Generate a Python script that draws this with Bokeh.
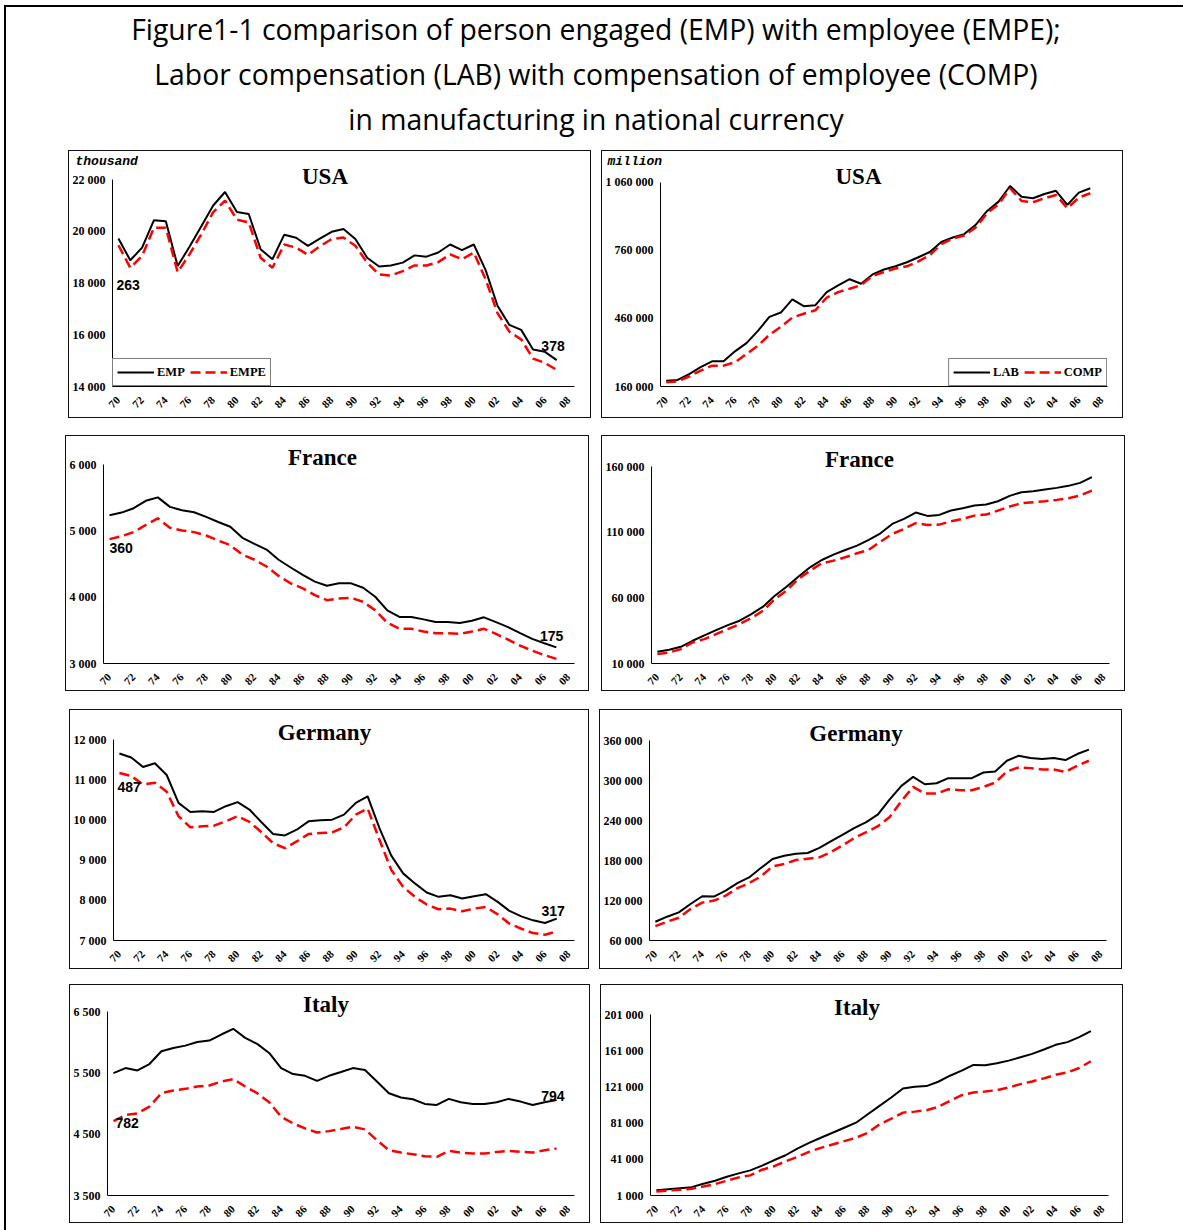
import math

from bokeh.embed import file_html
from bokeh.layouts import column, row
from bokeh.models import Div, FixedTicker, Label, Legend, LegendItem, Range1d, Title
from bokeh.plotting import figure
from bokeh.resources import INLINE

# ---------------------------------------------------------------- data
years = list(range(1970, 2008))
axis_years = list(range(1970, 2009, 2))
axis_year_labels = [f"{y % 100:02d}" for y in axis_years]

# persons engaged / employees, thousand
usa_emp = [19724, 18880, 19370, 20430, 20390, 18660, 19400, 20200, 21000, 21520,
           20750, 20670, 19310, 18920, 19870, 19750, 19440, 19720, 19980, 20090,
           19700, 18980, 18640, 18680, 18790, 19070, 19020, 19180, 19490, 19270,
           19490, 18500, 17120, 16380, 16190, 15430, 15340, 15020]
usa_empe = [19461, 18590, 19050, 20140, 20140, 18420, 19110, 19890, 20740, 21190,
            20450, 20350, 18980, 18590, 19490, 19370, 19090, 19420, 19700, 19760,
            19440, 18790, 18330, 18290, 18460, 18680, 18680, 18810, 19110, 18920,
            19180, 18140, 16840, 16120, 15820, 15080, 14910, 14642]

france_emp = [5237, 5278, 5344, 5456, 5507, 5364, 5314, 5283, 5212, 5136,
              5064, 4897, 4805, 4719, 4566, 4449, 4337, 4236, 4174, 4210,
              4210, 4144, 4007, 3803, 3702, 3702, 3666, 3625, 3625, 3610,
              3646, 3697, 3625, 3549, 3458, 3371, 3305, 3244]
france_empe = [4877, 4922, 4983, 5090, 5191, 5049, 5008, 4983, 4932, 4856,
               4785, 4642, 4566, 4464, 4322, 4210, 4134, 4032, 3956, 3981,
               3991, 3930, 3803, 3615, 3524, 3524, 3483, 3458, 3458, 3447,
               3483, 3524, 3447, 3361, 3269, 3193, 3127, 3069]

germany_emp = [11657, 11557, 11323, 11415, 11122, 10428, 10202, 10219, 10202, 10345,
               10445, 10261, 9952, 9651, 9617, 9759, 9968, 9993, 10010, 10135,
               10428, 10587, 9801, 9115, 8672, 8422, 8196, 8087, 8129, 8045,
               8104, 8154, 7962, 7736, 7602, 7502, 7435, 7544]
germany_empe = [11170, 11097, 10888, 10930, 10704, 10094, 9818, 9843, 9860, 9968,
                10094, 9952, 9701, 9425, 9299, 9467, 9651, 9676, 9692, 9818,
                10135, 10286, 9508, 8756, 8338, 8087, 7895, 7778, 7794, 7728,
                7794, 7836, 7652, 7418, 7293, 7184, 7142, 7227]

italy_emp = [5498, 5580, 5542, 5646, 5854, 5909, 5947, 6007, 6029, 6128,
             6221, 6073, 5975, 5827, 5580, 5482, 5454, 5372, 5454, 5515,
             5580, 5548, 5361, 5170, 5099, 5071, 4995, 4978, 5077, 5022,
             4995, 4995, 5022, 5077, 5033, 4978, 5022, 5060]
italy_empe = [4716, 4814, 4841, 4951, 5170, 5214, 5241, 5279, 5296, 5361,
              5400, 5279, 5170, 5022, 4787, 4677, 4595, 4529, 4551, 4584,
              4622, 4579, 4403, 4239, 4201, 4174, 4141, 4130, 4228, 4201,
              4184, 4184, 4212, 4228, 4212, 4201, 4239, 4266]

# labour compensation / compensation of employees, million
usa_lab = [185000, 189000, 215000, 245000, 271000, 271000, 315000, 351000, 405000, 467000,
           486000, 544000, 514000, 518000, 576000, 606000, 633000, 613000, 654000, 676000,
           690000, 708000, 730000, 753000, 797000, 817000, 832000, 873000, 934000, 975000,
           1044000, 997000, 990000, 1009000, 1023000, 961000, 1015000, 1034000]
usa_comp = [179000, 183000, 204000, 230000, 252000, 252000, 267000, 303000, 340000, 388000,
            423000, 464000, 481000, 496000, 552000, 576000, 591000, 607000, 647000, 665000,
            680000, 690000, 712000, 739000, 788000, 812000, 826000, 861000, 924000, 964000,
            1034000, 978000, 972000, 990000, 1004000, 946000, 993000, 1012000]

france_lab = [18920, 20440, 22730, 27310, 31380, 35440, 39260, 42560, 47640, 53240,
              61620, 68490, 76110, 83230, 88820, 92890, 96450, 99750, 104080, 109160,
              116280, 120090, 124920, 122380, 123140, 126450, 128220, 130260, 131020, 133560,
              137630, 140430, 141190, 142460, 143730, 145260, 147540, 151870]
france_comp = [17140, 18410, 20950, 26040, 28580, 32390, 36200, 40010, 44610, 50190,
               59090, 65440, 74340, 80690, 86280, 88320, 90860, 93910, 96450, 102810,
               108650, 112470, 116790, 115520, 115770, 118310, 120090, 122630, 123390, 126450,
               129500, 132040, 132800, 133560, 134580, 135850, 137880, 141700]

germany_lab = [88160, 95720, 102260, 114840, 126420, 125920, 134980, 146060, 154610, 168710,
               182300, 187330, 190350, 191360, 198910, 208980, 219050, 229120, 237680, 249250,
               271910, 292040, 305630, 294560, 296070, 303620, 303620, 303620, 312180, 313690,
               329800, 337350, 333820, 332310, 333820, 330800, 339860, 346410]
germany_comp = [81620, 88160, 94200, 107290, 116860, 119880, 127430, 138500, 146060, 156130,
                171230, 174750, 180790, 182800, 184820, 192870, 202940, 214010, 222570, 231630,
                245230, 269390, 290530, 280460, 280460, 287000, 285500, 285500, 290530, 297080,
                313690, 319730, 318720, 316710, 316710, 313180, 322240, 329800]

italy_lab = [6910, 8030, 9140, 10250, 13960, 17300, 21760, 25470, 28810, 34000,
             39940, 45510, 52930, 59240, 64810, 70380, 75940, 81510, 90790, 100060,
             109340, 119360, 121220, 121960, 126780, 133460, 139030, 145340, 144970, 147190,
             150160, 153870, 157580, 162410, 167600, 170570, 176140, 182820]
italy_comp = [5430, 6550, 7290, 8400, 11000, 13600, 17300, 21020, 23240, 29550,
              33260, 38830, 43650, 49220, 53670, 57390, 61100, 64810, 70380, 79660,
              85960, 92640, 93750, 95240, 98950, 105630, 111940, 114910, 116020, 117500,
              120470, 124180, 127150, 130490, 134570, 137170, 141990, 149420]

# y-axis ticks of each panel
usa_emp_ticks = [14000, 16000, 18000, 20000, 22000]
usa_lab_ticks = [160000, 460000, 760000, 1060000]
france_emp_ticks = [3000, 4000, 5000, 6000]
france_lab_ticks = [10000, 60000, 110000, 160000]
germany_emp_ticks = [7000, 8000, 9000, 10000, 11000, 12000]
germany_lab_ticks = [60000, 120000, 180000, 240000, 300000, 360000]
italy_emp_ticks = [3500, 4500, 5500, 6500]
italy_lab_ticks = [1000, 41000, 81000, 121000, 161000, 201000]

# ---------------------------------------------------------------- styling
SERIF = "Liberation Serif"
PAGE_LEFT = 6      # inside the page border


def spaced(v):
    return f"{v:,}".replace(",", " ")


def make_panel(name, black, red, names, ticks, box, axes_box, margin_left, margin_top,
               unit=None, legend_loc=None, gap_style=None, margin_bottom=0):
    """box: panel border (x, y, w, h); axes_box: left, top-tick, right and bottom-tick
    pixel positions of the axes on the page."""
    bx, by, bw, bh = box
    fl, ft, fr, fb = axes_box
    cl, ct, cr, cb = bx + 1, by + 1, bx + bw - 1, by + bh - 1
    band = 17 if unit is not None else 2
    frame_top = ct + band
    lo, hi = ticks[0], ticks[-1]
    per_px = (hi - lo) / (fb - ft)
    # the frame reaches above the top tick so the panel heading sits inside it
    y_end = hi + per_px * (ft - frame_top)

    p = figure(width=bw - 2, height=bh - 2,
               x_range=Range1d(1969.5, 2008.5), y_range=Range1d(lo, y_end),
               output_backend="svg", toolbar_location=None,
               min_border_left=fl - cl, min_border_top=band,
               min_border_right=cr - fr, min_border_bottom=cb - fb,
               outline_line_color=None, background_fill_color="white",
               border_fill_color="white",
               margin=(margin_top, 0, margin_bottom, margin_left),
               styles={"border": "1px solid #111111", "box-sizing": "content-box"})
    p.grid.visible = False

    xa = p.xaxis[0]
    xa.ticker = FixedTicker(ticks=axis_years)
    xa.major_label_overrides = dict(zip(axis_years, axis_year_labels))
    xa.major_label_orientation = math.pi / 4
    xa.major_label_standoff = 12
    xa.major_label_text_font_size = "11px"

    ya = p.yaxis[0]
    ya.ticker = FixedTicker(ticks=ticks)
    ya.bounds = (lo, hi)
    ya.major_label_overrides = {t: spaced(t) for t in ticks}
    ya.major_label_standoff = 7
    ya.major_label_text_font_size = "12px"

    for ax in (xa, ya):
        ax.major_tick_out = 0
        ax.major_tick_in = 0
        ax.minor_tick_out = 0
        ax.minor_tick_in = 0
        ax.major_tick_line_color = None
        ax.minor_tick_line_color = None
        ax.axis_line_color = "black"
        ax.axis_line_width = 1
        ax.major_label_text_font = SERIF
        ax.major_label_text_font_style = "bold"
        ax.major_label_text_color = "black"

    r_black = p.line(years, black, line_color="black", line_width=2)
    r_red = p.line(years, red, line_color="#ff0000", line_width=2.5, line_dash="10 5")

    # unit caption in the band above the frame
    if unit is not None:
        text, ux = unit
        p.add_layout(Title(text=text, align="left", offset=(bx + ux) - fl, standoff=0,
                           vertical_align="bottom", text_font="Liberation Mono",
                           text_font_style="bold italic", text_font_size="13px",
                           text_color="black"), "above")

    # panel heading: horizontal position from the frame, vertical from the y scale
    baseline = max(ft + 1, frame_top + 16)
    p.add_layout(Label(x=(bx + bw / 2 - 7) - fl, y=hi + per_px * (ft - baseline),
                       x_units="screen", y_units="data", y_offset=8, text=name,
                       text_align="center", text_baseline="alphabetic",
                       text_font=SERIF, text_font_style="bold",
                       text_font_size="23px", text_color="black"))

    if legend_loc is not None:
        legend = Legend(items=[LegendItem(label=names[0], renderers=[r_black]),
                               LegendItem(label=names[1], renderers=[r_red])],
                        orientation="horizontal", location=legend_loc,
                        margin=0, padding=4, spacing=5, label_standoff=3,
                        glyph_width=37, glyph_height=18, label_height=18,
                        label_text_font=SERIF, label_text_font_style="bold",
                        label_text_font_size="12.5px", label_text_color="black",
                        border_line_color="black", border_line_width=1,
                        background_fill_color="white", background_fill_alpha=1)
        p.add_layout(legend, "center")

    if gap_style is not None:
        (sx0, sy0), (sx1, sy1) = gap_style
        first_gap = black[0] - red[0]
        last_gap = black[-1] - red[-1]
        common = dict(text_font="Liberation Sans", text_font_style="bold",
                      text_font_size="14px", text_color="black", text_baseline="middle")
        p.add_layout(Label(x=years[0], y=red[0], x_offset=sx0, y_offset=sy0,
                           text=str(first_gap), text_align="left", **common))
        p.add_layout(Label(x=years[-1], y=black[-1], x_offset=sx1, y_offset=sy1,
                           text=str(last_gap), text_align="right", **common))
    return p


emp_names = ("EMP", "EMPE")
lab_names = ("LAB", "COMP")

p1 = make_panel("USA", usa_emp, usa_empe, emp_names, usa_emp_ticks,
                (68, 150, 523, 268), (110, 179, 572, 384), 68 - PAGE_LEFT, 0,
                unit=("thousand", 5), legend_loc="bottom_left",
                gap_style=((-2, -40), (8, 14)))
p2 = make_panel("USA", usa_lab, usa_comp, lab_names, usa_lab_ticks,
                (601, 150, 522, 268), (657, 182, 1105, 388), 601 - 591, 0,
                unit=("million", 3), legend_loc="bottom_right")
p3 = make_panel("France", france_emp, france_empe, emp_names, france_emp_ticks,
                (65, 435, 524, 256), (101, 464, 572, 661), 65 - PAGE_LEFT, 17,
                gap_style=((0, -9), (7, 11)))
p4 = make_panel("France", france_lab, france_comp, lab_names, france_lab_ticks,
                (601, 435, 524, 256), (648, 466, 1107, 663), 601 - 589, 17)
p5 = make_panel("Germany", germany_emp, germany_empe, emp_names, germany_emp_ticks,
                (69, 709, 520, 260), (111, 739, 572, 938), 69 - PAGE_LEFT, 18,
                gap_style=((-2, -14), (8, 8)))
p6 = make_panel("Germany", germany_lab, germany_comp, lab_names, germany_lab_ticks,
                (599, 709, 523, 260), (647, 740, 1104, 939), 599 - 589, 18)
p7 = make_panel("Italy", italy_emp, italy_empe, emp_names, italy_emp_ticks,
                (69, 984, 521, 239), (104, 1011, 572, 1193), 69 - PAGE_LEFT, 15,
                gap_style=((2, -2), (8, 4)), margin_bottom=12)
p8 = make_panel("Italy", italy_lab, italy_comp, lab_names, italy_lab_ticks,
                (600, 984, 523, 239), (648, 1014, 1106, 1194), 600 - 590, 15,
                margin_bottom=12)

heading = Div(
    text=('<div style="width:1180px;text-align:center;font-family:\'Open Sans\';'
          'font-size:28.3px;line-height:45px;color:black;">'
          'Figure1-1 comparison of person engaged (EMP) with employee (EMPE);<br>'
          'Labor compensation (LAB) with compensation of employee (COMP)<br>'
          'in manufacturing in national currency</div>'),
    width=1180, height=143, margin=0)

page = column(heading, row(p1, p2), row(p3, p4), row(p5, p6), row(p7, p8),
              margin=(5, 0, 0, 4), styles={"border": "2px solid black"})

open("out.html", "w").write(file_html(page, INLINE))
